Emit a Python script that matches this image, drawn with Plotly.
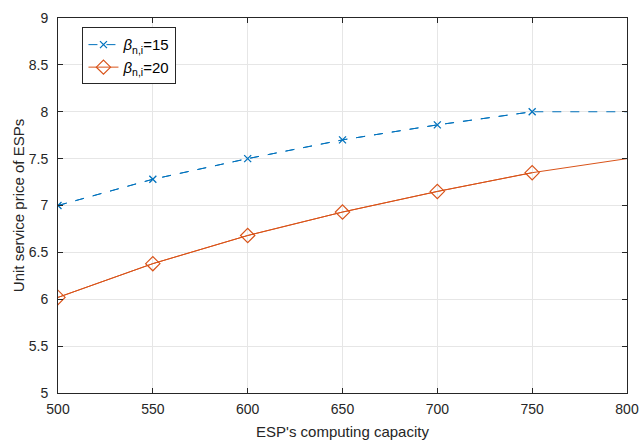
import plotly.graph_objects as go

capacity = [500, 550, 600, 650, 700, 750, 800]
price_beta15 = [7.00, 7.28, 7.50, 7.70, 7.86, 8.00, 8.00]
price_beta20 = [6.02, 6.38, 6.68, 6.93, 7.15, 7.35, 7.50]
marker_count = 6  # markers shown at 500..750
x_ticks = [500, 550, 600, 650, 700, 750, 800]
y_ticks = [5, 5.5, 6, 6.5, 7, 7.5, 8, 8.5, 9]
y_tick_labels = ["5", "5.5", "6", "6.5", "7", "7.5", "8", "8.5", "9"]

blue = "#0072BD"
red = "#D95319"
font = "Liberation Sans, Arial, sans-serif"

fig = go.Figure()
fig.add_trace(go.Scatter(x=capacity, y=price_beta15, mode="lines",
                         line=dict(color=blue, width=1, dash="dash"),
                         showlegend=False, hoverinfo="skip"))
fig.add_trace(go.Scatter(x=capacity, y=price_beta20, mode="lines",
                         line=dict(color=red, width=1),
                         showlegend=False, hoverinfo="skip"))
fig.add_trace(go.Scatter(x=capacity[:marker_count], y=price_beta15[:marker_count],
                         mode="lines+markers", name="<i>β</i><sub>n,i</sub>=15",
                         line=dict(color=blue, width=1, dash="dash"),
                         marker=dict(symbol="x-thin", size=7, line=dict(color=blue, width=1.3))))
fig.add_trace(go.Scatter(x=capacity[:marker_count], y=price_beta20[:marker_count],
                         mode="lines+markers", name="<i>β</i><sub>n,i</sub>=20",
                         line=dict(color=red, width=1),
                         marker=dict(symbol="diamond-open", size=11, color=red,
                                     line=dict(color=red, width=1.2))))

axis_common = dict(showline=True, linecolor="#262626", linewidth=1, mirror="ticks",
                   ticks="inside", ticklen=5, tickcolor="#262626",
                   showgrid=True, gridcolor="#E6E6E6", gridwidth=1, zeroline=False,
                   automargin=False, ticklabeloverflow="allow",
                   tickfont=dict(family=font, size=14, color="#262626"))

fig.update_layout(
    width=641, height=442,
    margin=dict(l=58, r=14, t=18, b=49),
    paper_bgcolor="white", plot_bgcolor="white",
    font=dict(family=font, color="#262626"),
    xaxis=dict(range=[500, 800], tickvals=x_ticks, ticklabelstandoff=3,
               title=dict(text="ESP's computing capacity", font=dict(size=15), standoff=10),
               **axis_common),
    yaxis=dict(range=[5, 9], tickvals=y_ticks, ticktext=y_tick_labels, ticklabelstandoff=6,
               title=dict(text="Unit service price of ESPs", font=dict(size=15), standoff=0),
               **axis_common),
    legend=dict(x=0.043, y=0.975, xanchor="left", yanchor="top",
                bgcolor="white", bordercolor="#262626", borderwidth=1,
                font=dict(family=font, size=15, color="black"),
                tracegroupgap=0, itemwidth=30),
)

fig.write_html("out.html", config={"displayModeBar": False},
               post_script="document.body.style.margin='0';")
